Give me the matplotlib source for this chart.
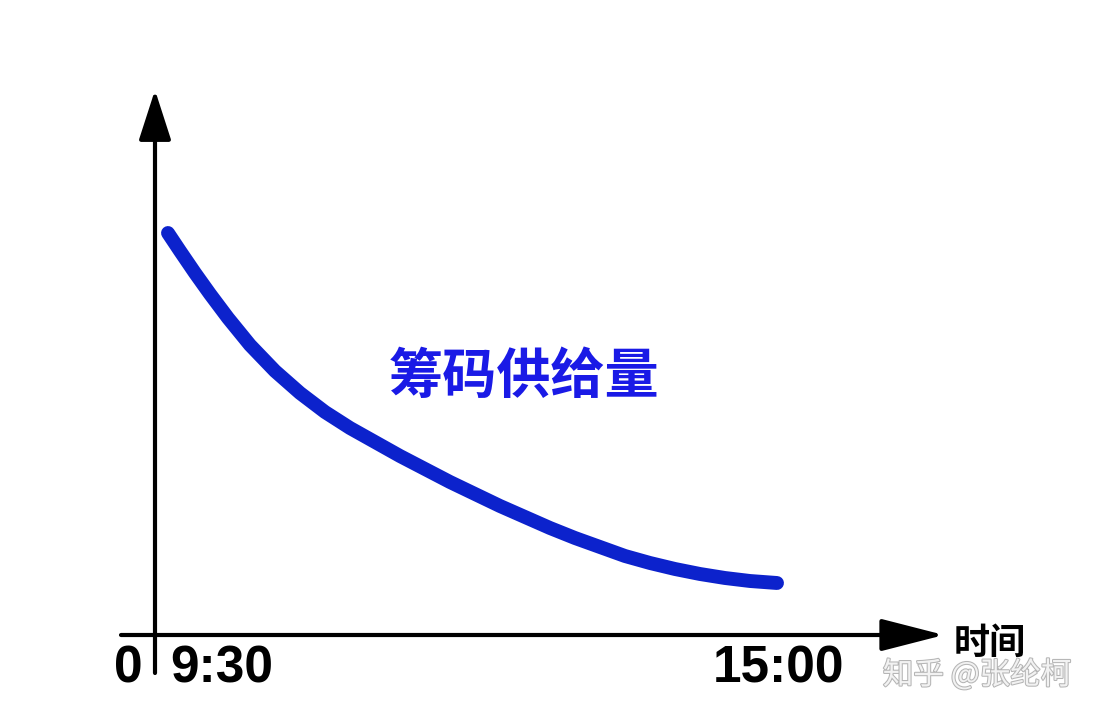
import matplotlib.pyplot as plt
import matplotlib.patheffects as pe

plt.rcParams['font.family'] = ['Noto Sans CJK SC', 'DejaVu Sans']

# curva de oferta (unidades: px desde el origen de los ejes)
curve_x = [13, 25, 40, 55, 73, 95, 120, 145, 170, 195, 220, 245, 270, 295,
           320, 345, 370, 395, 420, 445, 470, 495, 520, 545, 570, 595, 622]
curve_y = [402, 384, 362, 341, 317, 290, 264, 242, 223, 207, 193, 179, 166, 153,
           141, 129, 118, 107, 97, 88, 79, 72, 66, 61, 57, 54, 52]

tick_labels = ['0', '9:30', '15:00']
tick_pos = [-27, 67, 623]

curve_label = '筹码供给量'
x_label = '时间'
watermark = '知乎 @张纶柯'

fig = plt.figure(figsize=(11.08, 7.22), dpi=100)
ax = fig.add_axes([0, 0, 1, 1])
ax.set_xlim(-155, 953)
ax.set_ylim(-87, 635)
ax.axis('off')

# ejes con flecha
ax.annotate('', xy=(0, 545), xytext=(0, -38),
            arrowprops=dict(arrowstyle='-|>,head_length=3.1,head_width=1.0', color='black',
                            lw=3, shrinkA=0, shrinkB=0, mutation_scale=10))
ax.annotate('', xy=(789, 0), xytext=(-34, 0),
            arrowprops=dict(arrowstyle='-|>,head_length=3.9,head_width=1.0', color='black',
                            lw=3, shrinkA=0, shrinkB=0, mutation_scale=10))

ax.plot(curve_x, curve_y, color='#0c22cc', lw=10, solid_capstyle='round',
        solid_joinstyle='round')

ax.text(369, 258, curve_label, color='#1a1ae6', fontsize=39, fontweight='bold',
        ha='center', va='center')

for p, t in zip(tick_pos, tick_labels):
    ax.text(p, -34, t, fontsize=37, fontweight='bold', ha='center', va='center',
            family='Liberation Sans')

ax.text(835, -8, x_label, fontsize=26, fontweight='bold', ha='center', va='center')

ax.text(822, -40, watermark, fontsize=22, color='#f2f2f2', ha='center', va='center',
        path_effects=[pe.withStroke(linewidth=1.5, foreground='#b5b5b5')])

plt.savefig('out.png', dpi=100)
